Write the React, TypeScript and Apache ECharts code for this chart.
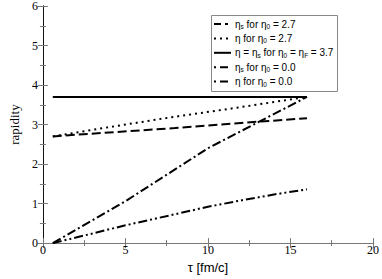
import React, { useEffect, useRef } from "react";
import * as echarts from "echarts";

const seriesNames = [
  "ηs for η0 = 2.7",
  "η for η0 = 2.7",
  "η = ηs for η0 = ηF = 3.7",
  "ηs for η0 = 0.0",
  "η for η0 = 0.0",
];
const tauEtaS27 = [0.6, 4, 8, 12, 16];
const etaS27 = [2.7, 2.8, 2.91, 3.04, 3.16];
const tauEta27 = [0.6, 3.8, 7.7, 11.5, 16];
const eta27 = [2.7, 2.92, 3.18, 3.41, 3.7];
const tauEtaF37 = [0.6, 16];
const etaF37 = [3.7, 3.7];
const tauEtaS00 = [0.6, 5, 10, 16];
const etaS00 = [0.0, 1.06, 2.4, 3.7];
const tauEta00 = [0.6, 2, 5, 8, 10, 12, 14, 16];
const eta00 = [0.0, 0.14, 0.45, 0.73, 0.92, 1.08, 1.23, 1.36];

const xTicks = [0, 5, 10, 15, 20];
const yTicks = [0, 1, 2, 3, 4, 5, 6];

const legendRich = [
  "{n|η}{s|s}{n| for η}{s|0}{n| = 2.7}",
  "{n|η for η}{s|0}{n| = 2.7}",
  "{n|η = η}{s|s}{n| for η}{s|0}{n| = η}{s|F}{n| = 3.7}",
  "{n|η}{s|s}{n| for η}{s|0}{n| = 0.0}",
  "{n|η for η}{s|0}{n| = 0.0}",
];

const pairs = (xs: number[], ys: number[]) => xs.map((x, i) => [x, ys[i]]);

export default function App() {
  const ref = useRef<HTMLDivElement>(null);
  useEffect(() => {
    if (!ref.current) return;
    const chart = echarts.init(ref.current, undefined, { renderer: "svg" });
    const dashes: (number[] | "solid")[] = [
      [9, 4],
      [2, 4],
      "solid",
      [9, 3, 2, 3],
      [9, 3, 2, 3, 2, 3],
    ];
    const legendDashes: (number[] | null)[] = [
      [7, 4, 3, 4],
      [2, 4],
      null,
      [2, 4, 8, 4],
      [2, 4, 8, 4],
    ];
    const datas = [
      pairs(tauEtaS27, etaS27),
      pairs(tauEta27, eta27),
      pairs(tauEtaF37, etaF37),
      pairs(tauEtaS00, etaS00),
      pairs(tauEta00, eta00),
    ];
    const frameX = {
      type: "value" as const,
      min: xTicks[0],
      max: xTicks[xTicks.length - 1],
      interval: 5,
      axisLine: { show: true, lineStyle: { color: "#777", width: 1 } },
      axisTick: { show: true, inside: true, length: 5, lineStyle: { color: "#777" } },
      minorTick: { show: true, splitNumber: 2, length: 3, lineStyle: { color: "#777" } },
      splitLine: { show: false },
    };
    const frameY = {
      type: "value" as const,
      min: yTicks[0],
      max: yTicks[yTicks.length - 1],
      interval: 1,
      axisLine: { show: true, lineStyle: { color: "#111", width: 1 } },
      axisTick: { show: true, inside: true, length: 5, lineStyle: { color: "#777" } },
      minorTick: { show: true, splitNumber: 2, length: 3, lineStyle: { color: "#777" } },
      splitLine: { show: false },
    };
    const legendX = 211;
    const legendY = 15;
    const pitch = 14.4;
    const legendItems: any[] = [
      {
        type: "rect",
        shape: { x: legendX + 0.5, y: legendY + 0.5, width: 126, height: 76 },
        style: { fill: "#fff", stroke: "#888", lineWidth: 1 },
        z: 10,
      },
    ];
    seriesNames.forEach((_, i) => {
      const cy = legendY + 9 + i * pitch;
      legendItems.push({
        type: "line",
        shape: { x1: legendX + 3, y1: cy, x2: legendX + 20, y2: cy },
        style: { stroke: "#000", lineWidth: 2, lineDash: legendDashes[i] || undefined },
        z: 11,
      });
      legendItems.push({
        type: "text",
        x: legendX + 24,
        y: cy,
        style: {
          text: legendRich[i],
          verticalAlign: "middle",
          rich: {
            n: { fontFamily: "Liberation Sans", fontSize: 10, fill: "#000", lineHeight: 12, verticalAlign: "middle" },
            s: { fontFamily: "Liberation Sans", fontSize: 6.5, fill: "#000", lineHeight: 12, verticalAlign: "bottom", padding: [5, 0, 0, 0] },
          },
        },
        z: 11,
      });
    });
    chart.setOption({
      animation: false,
      backgroundColor: "#fff",
      grid: { left: 26, right: 6, top: 5, bottom: 29 },
      xAxis: [
        {
          ...frameX,
          position: "bottom",
          name: "τ [fm/c]",
          nameLocation: "middle",
          nameGap: 12,
          nameTextStyle: { fontFamily: "Liberation Sans", fontSize: 13, color: "#000" },
          axisLabel: {
            fontFamily: "Liberation Serif, serif",
            fontSize: 12,
            color: "#000",
            margin: 1,
          },
        },
        { ...frameX, position: "top", axisLabel: { show: false } },
      ],
      yAxis: [
        {
          ...frameY,
          position: "left",
          name: "rapidity",
          nameLocation: "middle",
          nameGap: 12,
          nameTextStyle: { fontFamily: "Liberation Serif, serif", fontSize: 13, color: "#000" },
          axisLabel: {
            fontFamily: "Liberation Serif, serif",
            fontSize: 12,
            color: "#000",
            margin: 5,
          },
        },
        { ...frameY, position: "right", axisLabel: { show: false } },
      ],
      graphic: legendItems,
      series: seriesNames.map((name, i) => ({
        name,
        type: "line",
        xAxisIndex: 0,
        yAxisIndex: 0,
        data: datas[i],
        symbol: "none",
        color: "#000",
        lineStyle: { color: "#000", width: 2, type: dashes[i] },
        z: 3,
      })),
    });
    return () => chart.dispose();
  }, []);
  return <div ref={ref} style={{ width: 382, height: 279, position: "absolute", left: 0, top: 0 }} />;
}
